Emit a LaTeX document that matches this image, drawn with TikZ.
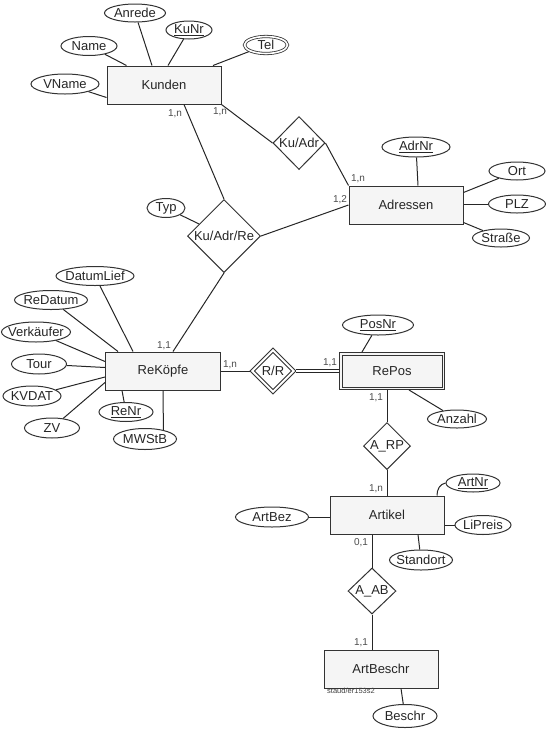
\documentclass[tikz,border=0pt]{standalone}
\usepackage{fontspec}
\setmainfont{Liberation Sans}
\usetikzlibrary{shapes.geometric}
\begin{document}
\begin{tikzpicture}[x=1pt,y=-1pt,
  ent/.style={draw=black!80, fill=gray!8, line width=1pt, minimum width=114pt, minimum height=38pt, inner sep=0pt, font=\fontsize{13}{15}\selectfont, text=black!85},
  attr/.style={draw=black!80, ellipse, line width=1pt, inner sep=0pt, fill=white},
  rel/.style={draw=black!80, diamond, line width=1pt, inner sep=0pt, fill=white},
  lbl/.style={font=\fontsize{13}{15}\selectfont, text=black!85, inner sep=0pt},
  card/.style={font=\fontsize{10}{12}\selectfont, text=black!70, inner sep=0pt},
  conn/.style={draw=black!85, line width=1pt},
  dbl/.style={double=white, double distance=2pt, outer sep=1.9pt}]
\useasboundingbox (0,0) rectangle (546,732);

% Kunden
\node[ent] (kunden) at (164,85) {Kunden};
\node[attr, minimum width=61pt, minimum height=18pt, label={[lbl]center:Anrede}] (anrede) at (135,13) {};
\node[attr, minimum width=46pt, minimum height=18pt, label={[lbl]center:\underline{KuNr}}] (kunr) at (189,30) {};
\node[attr, minimum width=56pt, minimum height=19pt, label={[lbl]center:Name}] (name) at (89,46) {};
\node[attr, minimum width=68pt, minimum height=20pt, label={[lbl]center:VName}] (vname) at (65,84) {};
\node[attr, double=white, double distance=1.6pt, line width=0.8pt, outer sep=1.6pt, minimum width=43pt, minimum height=17pt, label={[lbl]center:Tel}] (tel) at (266,45) {};

% Relationships top
\node[rel, minimum width=52pt, minimum height=53pt, label={[lbl]center:Ku/Adr}] (kuadr) at (299,143) {};
\node[rel, minimum width=73pt, minimum height=73pt, label={[lbl]center:Ku/Adr/Re}] (kuadrre) at (224,236) {};
\node[attr, minimum width=38pt, minimum height=19pt, label={[lbl]center:Typ}] (typ) at (166,208) {};

% Adressen
\node[ent] (adressen) at (406,205) {Adressen};
\node[attr, minimum width=68pt, minimum height=20pt, label={[lbl]center:\underline{AdrNr}}] (adrnr) at (416,147) {};
\node[attr, minimum width=56pt, minimum height=18pt, label={[lbl]center:Ort}] (ort) at (517,171) {};
\node[attr, minimum width=57pt, minimum height=18pt, label={[lbl]center:PLZ}] (plz) at (517,204) {};
\node[attr, minimum width=57pt, minimum height=18pt, label={[lbl]center:Straße}] (strasse) at (501,238) {};

% ReKoepfe
\node[ent, minimum width=115pt] (rekoepfe) at (163,371) {ReKöpfe};
\node[attr, minimum width=78pt, minimum height=19pt, label={[lbl]center:DatumLief}] (datumlief) at (95,276) {};
\node[attr, minimum width=73pt, minimum height=19pt, label={[lbl]center:ReDatum}] (redatum) at (51,300) {};
\node[attr, minimum width=69pt, minimum height=20pt, label={[lbl]center:Verkäufer}] (verkaeufer) at (36,332) {};
\node[attr, minimum width=55pt, minimum height=20pt, label={[lbl]center:Tour}] (tour) at (39,364) {};
\node[attr, minimum width=58pt, minimum height=20pt, label={[lbl]center:KVDAT}] (kvdat) at (32,396) {};
\node[attr, minimum width=55pt, minimum height=20pt, label={[lbl]center:ZV}] (zv) at (52,428) {};
\node[attr, minimum width=54pt, minimum height=19pt, label={[lbl]center:\underline{ReNr}}] (renr) at (126,412) {};
\node[attr, minimum width=63pt, minimum height=21pt, label={[lbl]center:MWStB}] (mwstb) at (145,439) {};

% R/R and RePos
\node[rel, dbl, minimum width=43pt, minimum height=43pt, label={[lbl]center:R/R}] (rr) at (273,371) {};
\node[ent, minimum width=105pt, minimum height=37pt] (repos) at (392,371) {RePos};
\draw[draw=black!80, line width=1pt] ([shift={(3pt,-3pt)}]repos.north west) rectangle ([shift={(-3pt,3pt)}]repos.south east);
\node[attr, minimum width=71pt, minimum height=20pt, label={[lbl]center:\underline{PosNr}}] (posnr) at (378,325) {};
\node[attr, minimum width=59pt, minimum height=18pt, label={[lbl]center:Anzahl}] (anzahl) at (457,419) {};
\node[rel, minimum width=47pt, minimum height=47pt, label={[lbl]center:A\_RP}] (arp) at (387,446) {};

% Artikel
\node[ent] (artikel) at (387,515) {Artikel};
\node[attr, minimum width=54pt, minimum height=18pt, label={[lbl]center:\underline{ArtNr}}] (artnr) at (473,483) {};
\node[attr, minimum width=56pt, minimum height=19pt, label={[lbl]center:LiPreis}] (lipreis) at (483,525) {};
\node[attr, minimum width=63pt, minimum height=20pt, label={[lbl]center:Standort}] (standort) at (421,560) {};
\node[attr, minimum width=73pt, minimum height=20pt, label={[lbl]center:ArtBez}] (artbez) at (272,517) {};
\node[rel, minimum width=48pt, minimum height=46pt, label={[lbl]center:A\_AB}] (aab) at (372,591) {};

% ArtBeschr
\node[ent] (artbeschr) at (381,669) {ArtBeschr};
\node[attr, minimum width=64pt, minimum height=23pt, label={[lbl]center:Beschr}] (beschr) at (405,716) {};
\node[font=\fontsize{7.5}{9}\selectfont, text=black!75, inner sep=0pt] (staud) at (351,691) {staud/er153s2};

% cardinalities
\node[card] (c1) at (175,114) {1,n};
\node[card] (c2) at (220,112) {1,n};
\node[card] (c3) at (358,179) {1,n};
\node[card] (c4) at (340,200) {1,2};
\node[card] (c5) at (164,346) {1,1};
\node[card] (c6) at (230,365) {1,n};
\node[card] (c7) at (330,363) {1,1};
\node[card] (c8) at (376,398) {1,1};
\node[card] (c9) at (376,489) {1,n};
\node[card] (c10) at (361,543) {0,1};
\node[card] (c11) at (361,643) {1,1};

% connectors: Kunden
\draw[conn] (name) -- (kunden);
\draw[conn] (anrede) -- ([xshift=-12pt]kunden.north);
\draw[conn] (kunr) -- ([xshift=4pt]kunden.north);
\draw[conn] (tel) -- ([xshift=49pt]kunden.north);
\draw[conn] (vname) -- ([yshift=7pt]kunden.south west);
\draw[conn] (kunden.south east) -- (kuadr.west);
\draw[conn] (kuadr.east) -- (adressen.north west);
\draw[conn] ([xshift=20pt]kunden.south) -- (kuadrre.north);
\draw[conn] (kuadrre.east) -- (adressen.west);
\draw[conn] (kuadrre.south) -- ([xshift=10pt]rekoepfe.north);
\draw[conn] (typ) -- (kuadrre);

% Adressen
\draw[conn] (adrnr) -- ([xshift=12pt]adressen.north);
\draw[conn] (ort) -- ([yshift=-7pt]adressen.north east);
\draw[conn] (plz.west) -- (adressen.east |- plz.west);
\draw[conn] (strasse) -- ([yshift=2pt]adressen.south east);

% ReKoepfe
\draw[conn] (datumlief) -- ([xshift=-30pt]rekoepfe.north);
\draw[conn] (redatum) -- ([xshift=-45pt]rekoepfe.north);
\draw[conn] (verkaeufer) -- ([yshift=-10pt]rekoepfe.north west);
\draw[conn] (tour) -- ([yshift=-16pt]rekoepfe.north west);
\draw[conn] (kvdat) -- ([yshift=-6pt]rekoepfe.west);
\draw[conn] (zv) -- ([yshift=8pt]rekoepfe.south west);
\draw[conn] (renr) -- ([xshift=-41pt]rekoepfe.south);
\draw[conn] (rekoepfe.south) -- (mwstb.26);
\draw[conn] (rekoepfe.east) -- (rr.west);
\draw[conn, double=white, double distance=1.6pt, line width=0.8pt] (rr.east) -- (repos.west);

% RePos
\draw[conn] (posnr) -- ([xshift=-30pt]repos.north);
\draw[conn] (anzahl) -- ([xshift=17pt]repos.south);
\draw[conn] ([xshift=-5pt]repos.south) -- (arp.north);
\draw[conn] (arp.south) -- (artikel.north);

% Artikel
\draw[conn] ([xshift=50pt]artikel.north) to[out=90,in=190] (artnr.west);
\draw[conn] (lipreis.west) -- (artikel.east |- lipreis.west);
\draw[conn] (artbez.east) -- (artikel.west |- artbez.east);
\draw[conn] (standort) -- ([xshift=31pt]artikel.south);
\draw[conn] ([xshift=-15pt]artikel.south) -- (aab.north);
\draw[conn] (aab.south) -- (aab.south |- artbeschr.north);
\draw[conn] ([xshift=20pt]artbeschr.south) -- (beschr);
\end{tikzpicture}
\end{document}
